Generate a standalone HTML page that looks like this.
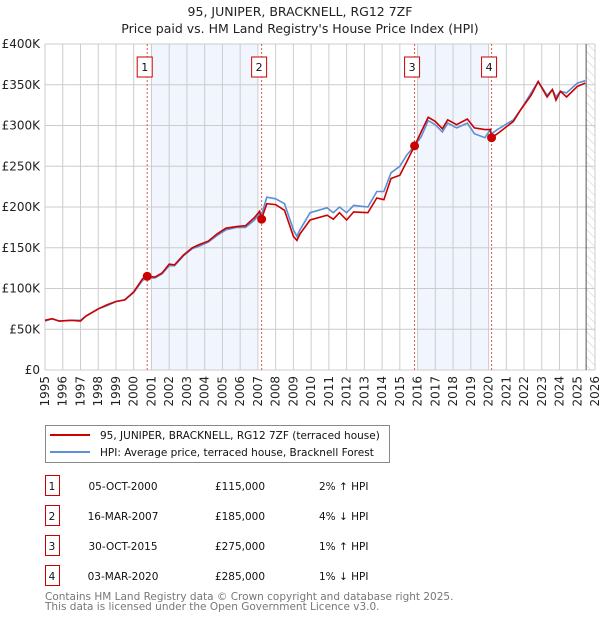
<!DOCTYPE html>
<html><head><meta charset="utf-8"><style>
body{margin:0;background:#fff;font-family:"DejaVu Sans","Liberation Sans",sans-serif;}
svg text{font-family:"DejaVu Sans","Liberation Sans",sans-serif;}
</style></head><body>
<svg id="c" width="600" height="620" xmlns="http://www.w3.org/2000/svg">
<defs><pattern id="hatch" width="6" height="6" patternUnits="userSpaceOnUse" patternTransform="rotate(-45)"><line x1="0" y1="0" x2="0" y2="6" stroke="#ccc" stroke-width="1"/></pattern></defs>
<text x="300" y="16" text-anchor="middle" font-size="12.5" fill="#222">95, JUNIPER, BRACKNELL, RG12 7ZF</text>
<text x="300" y="33" text-anchor="middle" font-size="12.5" fill="#222">Price paid vs. HM Land Registry's House Price Index (HPI)</text>
<g id="plot"></g>
<g>
<rect x="45.5" y="425.5" width="344" height="37" fill="#fff" stroke="#888"/>
<line x1="50" y1="435" x2="90" y2="435" stroke="#cc0000" stroke-width="2"/>
<text x="100" y="439" font-size="10.5" fill="#111">95, JUNIPER, BRACKNELL, RG12 7ZF (terraced house)</text>
<line x1="50" y1="452" x2="90" y2="452" stroke="#5b8fd6" stroke-width="2"/>
<text x="100" y="456" font-size="10.5" fill="#111">HPI: Average price, terraced house, Bracknell Forest</text>
</g>
<g id="table"></g>
<text x="45" y="600" font-size="10.5" fill="#777">Contains HM Land Registry data © Crown copyright and database right 2025.</text>
<text x="45" y="610" font-size="10.5" fill="#777">This data is licensed under the Open Government Licence v3.0.</text>
</svg>
<script>
const hpiYears=[1995.0,1995.4,1995.8,1996.5,1997.0,1997.3,1998.0,1998.5,1999.0,1999.5,2000.0,2000.5,2000.76,2001.2,2001.6,2002.0,2002.3,2002.8,2003.3,2003.7,2004.2,2004.7,2005.2,2005.8,2006.3,2006.8,2007.1,2007.2,2007.5,2008.0,2008.5,2009.0,2009.2,2009.37,2009.94,2010.9,2011.25,2011.6,2012.0,2012.4,2013.2,2013.7,2014.1,2014.5,2015.0,2015.4,2015.83,2016.2,2016.6,2017.0,2017.4,2017.7,2018.2,2018.8,2019.2,2019.8,2020.1,2020.17,2020.5,2021.4,2021.8,2022.4,2022.8,2023.3,2023.6,2023.8,2024.05,2024.4,2025.0,2025.45];
const hpiValues=[60,63,60,61,61,66,75,79,84,86,95,110,113,113,118,128,128,140,149,152,157,165,172,175,175,184,192,190,212,210,204,172,164,172,193,199,193,200,193,202,200,219,219,242,250,264,275,286,306,301,292,303,297,303,290,285,295,290,295,307,319,340,354,337,344,335,342,340,352,355];
const priceValues=[61,63,60,61,60,66,75,80,84,86,96,112,115,114,119,130,129,141,150,154,158,167,174,176,177,187,195,185,204,203,196,164,159,167,184,190,185,193,184,194,193,211,209,235,239,256,275,292,310,305,296,307,301,308,297,295,295,285,290,305,319,337,354,335,344,331,342,335,348,352];
const saleDates=[2000.76,2007.21,2015.83,2020.17];
const salePrices=[115,185,275,285];
const saleLabels=["05-OCT-2000","16-MAR-2007","30-OCT-2015","03-MAR-2020"];
const salePriceText=["£115,000","£185,000","£275,000","£285,000"];
const saleHpiText=["2% ↑ HPI","4% ↓ HPI","1% ↑ HPI","1% ↓ HPI"];
const yTicks=[0,50,100,150,200,250,300,350,400];
const yTickLabels=["£0","£50K","£100K","£150K","£200K","£250K","£300K","£350K","£400K"];
const shadeRanges=[[2001,2007],[2016,2020]];

const NS="http://www.w3.org/2000/svg";
const X0=45,X1=595,Y0=370,Y1=44,T0=1995,T1=2026,V1=400;
const xs=t=>X0+(t-T0)/(T1-T0)*(X1-X0);
const ys=v=>Y0-v/V1*(Y0-Y1);
const plot=document.getElementById('plot');
function mk(tag,attrs,parent){const e=document.createElementNS(NS,tag);for(const k in attrs)e.setAttribute(k,attrs[k]);(parent||plot).appendChild(e);return e;}
shadeRanges.forEach((r,i)=>{const e=mk('rect',{x:xs(r[0]),y:Y1,width:xs(r[1])-xs(r[0]),height:Y0-Y1,fill:'#eef3fd',opacity:0.8});

});
const hx=xs(2025.5);
const ht=mk('rect',{x:hx,y:Y1,width:X1-hx,height:Y0-Y1,fill:'url(#hatch)'});


for(let y=T0;y<=T1;y++){const g=mk('line',{x1:xs(y),x2:xs(y),y1:Y1,y2:Y0,stroke:'#ccc','stroke-width':1});


const t=mk('text',{x:0,y:0,'font-size':12,fill:'#222','text-anchor':'end',transform:`translate(${xs(y)+4},${Y0+6}) rotate(-90)`});t.textContent=y;

}
yTicks.forEach((v,i)=>{const g=mk('line',{x1:X0,x2:X1,y1:ys(v),y2:ys(v),stroke:'#ccc','stroke-width':1});


const t=mk('text',{x:40,y:ys(v)+4,'font-size':12,fill:'#222','text-anchor':'end'});t.textContent=yTickLabels[i];

});
const vl=mk('line',{x1:hx,x2:hx,y1:Y1,y2:Y0,stroke:'#555','stroke-width':1});


saleDates.forEach((d,i)=>{const l=mk('line',{x1:xs(d),x2:xs(d),y1:Y1,y2:Y0,stroke:'#e05555','stroke-width':1,'stroke-dasharray':'2,2'});


const b=mk('rect',{x:xs(d)-10,y:57,width:15,height:20,fill:'#fff',stroke:'#cc0000'});


const t=mk('text',{x:xs(d)-2.5,y:71,'font-size':11,'text-anchor':'middle',fill:'#111'});t.textContent=i+1;

});
function path(vals){return hpiYears.map((t,i)=>(i?'L':'M')+xs(t).toFixed(1)+','+ys(vals[i]).toFixed(1)).join('');}
const hp=mk('path',{d:path(hpiValues),fill:'none',stroke:'#5b8fd6','stroke-width':1.6});


const pp=mk('path',{d:path(priceValues),fill:'none',stroke:'#cc0000','stroke-width':1.6});


saleDates.forEach((d,i)=>{const c=mk('circle',{cx:xs(d),cy:ys(salePrices[i]),r:4.5,fill:'#cc0000'});

});
const tb=document.getElementById('table');
saleLabels.forEach((s,i)=>{const y=476+i*30;
const b=mk('rect',{x:45.5,y:y-0.5,width:14,height:20,fill:'#fff',stroke:'#cc0000'},tb);


const cells=[[52,'middle',String(i+1)],[123,'middle',s],[240,'middle',salePriceText[i]],[319,'start',saleHpiText[i]]];
cells.forEach(c=>{const t=mk('text',{x:c[0],y:y+14,'font-size':10.5,fill:'#111','text-anchor':c[1]},tb);t.textContent=c[2];

});});
</script>
</body></html>
